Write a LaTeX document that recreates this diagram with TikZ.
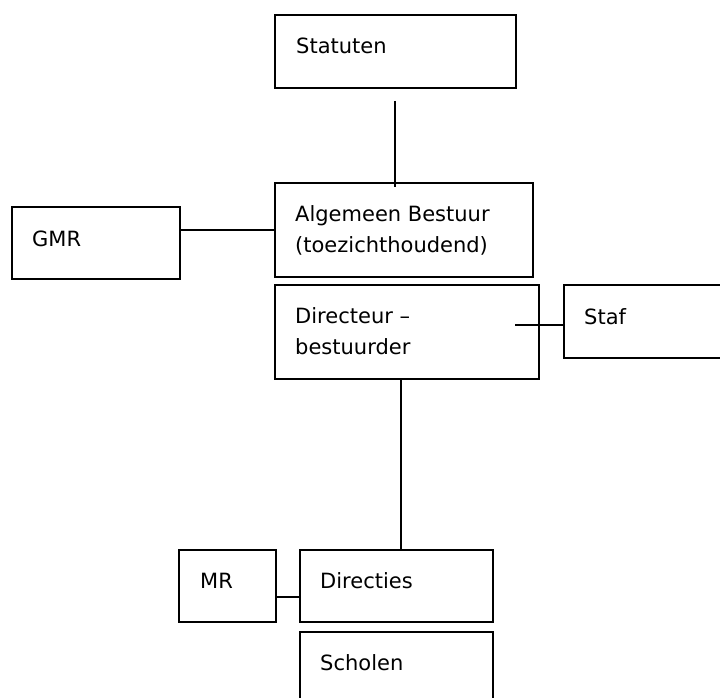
\documentclass[tikz,border=0pt]{standalone}
\usepackage{fontspec}
\setmainfont{DejaVu Sans}
\usetikzlibrary{calc}
\begin{document}
\begin{tikzpicture}[x=1pt,y=-1pt,
  box/.style={draw=black, line width=1.8pt, rectangle, inner sep=0pt, anchor=north west, fill=white},
  lbl/.style={inner sep=0pt, anchor=base west, align=left, font=\fontsize{21}{31}\selectfont},
  conn/.style={draw=black, line width=1.6pt}]
\useasboundingbox (0,0) rectangle (720,698);
\fill[white] (0,0) rectangle (720,698);
\clip (0,0) rectangle (720,698);
% boxes
\node[box, minimum width=241, minimum height=73] (stat) at (274,14) {};
\node[box, minimum width=258, minimum height=94] (alg) at (274,182) {};
\node[box, minimum width=168, minimum height=72] (gmr) at (11,206) {};
\node[box, minimum width=264, minimum height=94] (dir) at (274,284) {};
\node[box, minimum width=180, minimum height=73] (staf) at (563,284) {};
\node[box, minimum width=97, minimum height=72] (mr) at (178,549) {};
\node[box, minimum width=193, minimum height=72] (dirs) at (299,549) {};
\node[box, minimum width=193, minimum height=80] (schol) at (299,631) {};
% texts (base = last line)
\node[lbl] (statT) at ($(stat.north west)+(22,40)$) {Statuten};
\node[lbl] (algT) at ($(alg.north west)+(21,70)$) {Algemeen Bestuur\\(toezichthoudend)};
\node[lbl] (gmrT) at ($(gmr.north west)+(21,40)$) {GMR};
\node[lbl] (dirT) at ($(dir.north west)+(21,70)$) {Directeur –\\bestuurder};
\node[lbl] (stafT) at ($(staf.north west)+(21,40)$) {Staf};
\node[lbl] (mrT) at ($(mr.north west)+(22,39)$) {MR};
\node[lbl] (dirsT) at ($(dirs.north west)+(21,39)$) {Directies};
\node[lbl] (scholT) at ($(schol.north west)+(21,39)$) {Scholen};
% connectors
\coordinate (s1) at (395,101);
\coordinate (s2) at ($(alg.north)+(0,5)$);
\draw[conn] (s1) -- (s1 |- s2);
\draw[conn] (alg.west) -- (alg.west -| gmr.east);
\coordinate (ds) at (515,325);
\draw[conn] (ds) -- (ds -| staf.west);
\coordinate (dd) at (401,378);
\draw[conn] (dd |- dir.south) -- (dd |- dirs.north);
\coordinate (md) at (276,597);
\draw[conn] (md -| mr.east) -- (md -| dirs.west);
\end{tikzpicture}
\end{document}
